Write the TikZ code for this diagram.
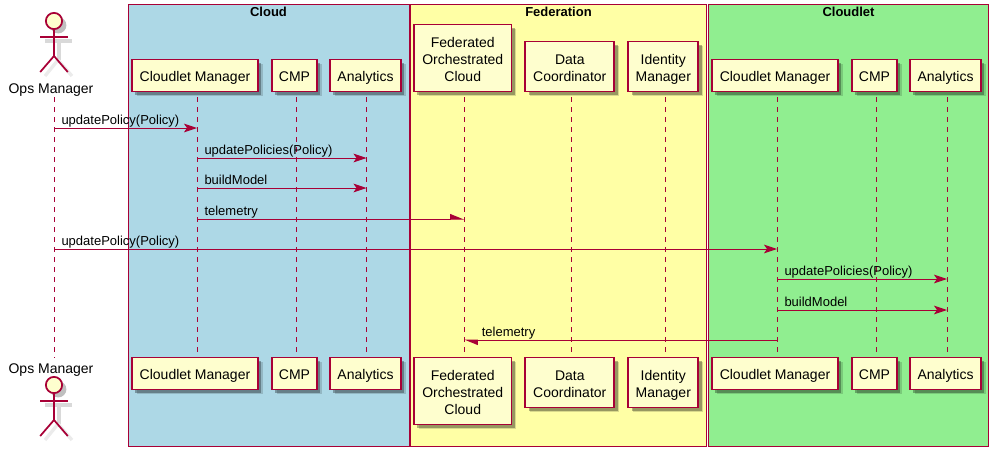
\documentclass[tikz,border=0pt]{standalone}
\usepackage{fontspec}
\setmainfont{Liberation Sans}
\usetikzlibrary{arrows.meta,shadows}
\definecolor{umlred}{HTML}{A80036}
\definecolor{umlcream}{HTML}{FEFECE}
\definecolor{cloudblue}{HTML}{ADD8E6}
\definecolor{fedyellow}{HTML}{FFFFA5}
\definecolor{cloudletgreen}{HTML}{90EE90}
\begin{document}
\begin{tikzpicture}[x=0.75pt,y=-0.75pt]
	\tikzstyle{group} = [rectangle,draw=umlred,line width=0.8pt,inner sep=0pt,outer sep=0pt,anchor=north west]
	\tikzstyle{title} = [inner sep=0pt,font=\fontsize{9.75pt}{12pt}\selectfont\bfseries]
	\tikzstyle{part} = [rectangle,draw=umlred,line width=1.3pt,fill=umlcream,inner sep=0pt,outer sep=0pt,align=center,text depth=0pt,text height=9pt,
	minimum height=24pt,font=\fontsize{10.5pt}{12.75pt}\selectfont,drop shadow={shadow xshift=3.6pt,shadow yshift=-3.6pt,fill=black,opacity=0.15},
	drop shadow={shadow xshift=2.4pt,shadow yshift=-2.4pt,fill=black,opacity=0.3}]
	\tikzstyle{parttwo} = [part,text height=21.8pt,minimum height=37.5pt]
	\tikzstyle{partthree} = [part,text height=34.5pt,minimum height=50.25pt]
	\tikzstyle{who} = [inner sep=0pt,font=\fontsize{10.5pt}{12.75pt}\selectfont]
	\tikzstyle{life} = [draw=umlred,line width=0.75pt,dash pattern=on 3.75pt off 3.75pt]
	\tikzstyle{msg} = [draw=umlred,line width=0.75pt,-{Stealth[length=9.75pt,width=6.5pt,inset=2.25pt]}]
	\tikzstyle{half} = [draw=umlred,line width=0.75pt]
	\tikzstyle{msgtext} = [pos=0,anchor=base west,inner sep=0pt,font=\fontsize{9.75pt}{12pt}\selectfont]
	\tikzset{actor/.pic={
		\draw[black!15,line width=3pt] (4.5,20) -- (4.5,39) (-9,20) -- (18,20);
		\draw[black!8,line width=2.5pt] (4,39) -- (-9,55) (4,39) -- (18,55);
		\node (-head) [circle,draw=umlred,line width=1.3pt,fill=umlcream,inner sep=0pt,outer sep=0pt,minimum size=12.2pt,
		drop shadow={shadow xshift=3.2pt,shadow yshift=-3.2pt,fill=black,opacity=0.25}] at (0,0) {};
		\draw[umlred,line width=1.3pt] (-head.south) -- (0,35) (-13.8,16) -- (13.8,16)
		(-13.8,51) -- (0,35) -- (13.8,51);
	}}
	\useasboundingbox (0,0) rectangle (999,457);
	% groups
	\node (cloud) [group,fill=cloudblue,minimum width=210.4pt,minimum height=331.5pt] at (128.5,4.5) {};
	\node (federation) [group,fill=fedyellow,minimum width=222pt,minimum height=331.5pt] at (410.5,4.5) {};
	\node (cloudlet) [group,fill=cloudletgreen,minimum width=210pt,minimum height=331.5pt] at (708.5,4.5) {};
	\node (cloudtitle) [title] at (268.5,12) {Cloud};
	\node (federationtitle) [title] at (558.5,12) {Federation};
	\node (cloudlettitle) [title] at (848.5,12) {Cloudlet};
	% top row
	\pic (opstop) at (54,21) {actor};
	\node (opsname) [who] at (51,90) {Ops Manager};
	\node (cm1) [part,anchor=south,minimum width=94.5pt] at (195,91.5) {Cloudlet Manager};
	\node (cmp1) [part,anchor=south,minimum width=33.75pt] at (294.5,91.5) {CMP};
	\node (ana1) [part,anchor=south,minimum width=53.25pt] at (365.5,91.5) {Analytics};
	\node (foc) [partthree,anchor=south,minimum width=73.1pt] at (462.75,91.5) {Federated\\Orchestrated\\Cloud};
	\node (data) [parttwo,anchor=south,minimum width=66.75pt] at (569.8,91.5) {Data\\Coordinator};
	\node (idm) [parttwo,anchor=south,minimum width=52.5pt] at (663.3,91.5) {Identity\\Manager};
	\node (cm2) [part,anchor=south,minimum width=94.5pt] at (775,91.5) {Cloudlet Manager};
	\node (cmp2) [part,anchor=south,minimum width=33.75pt] at (874.5,91.5) {CMP};
	\node (ana2) [part,anchor=south,minimum width=53.25pt] at (945.5,91.5) {Analytics};
	% bottom row
	\node (opsnameb) [who] at (51,370) {Ops Manager};
	\pic (opsbot) at (54,385) {actor};
	\node (cm1b) [part,anchor=north,minimum width=94.5pt] at (195,357.5) {Cloudlet Manager};
	\node (cmp1b) [part,anchor=north,minimum width=33.75pt] at (294.5,357.5) {CMP};
	\node (ana1b) [part,anchor=north,minimum width=53.25pt] at (365.5,357.5) {Analytics};
	\node (focb) [partthree,anchor=north,minimum width=73.1pt] at (462.75,357.5) {Federated\\Orchestrated\\Cloud};
	\node (datab) [parttwo,anchor=north,minimum width=66.75pt] at (569.8,357.5) {Data\\Coordinator};
	\node (idmb) [parttwo,anchor=north,minimum width=52.5pt] at (663.3,357.5) {Identity\\Manager};
	\node (cm2b) [part,anchor=north,minimum width=94.5pt] at (775,357.5) {Cloudlet Manager};
	\node (cmp2b) [part,anchor=north,minimum width=33.75pt] at (874.5,357.5) {CMP};
	\node (ana2b) [part,anchor=north,minimum width=53.25pt] at (945.5,357.5) {Analytics};
	% lifelines
	\coordinate (opsl) at (54,97);
	\coordinate (cm1l) at (197,97);
	\coordinate (cmp1l) at (296,97);
	\coordinate (ana1l) at (366.5,97);
	\coordinate (focl) at (464,97);
	\coordinate (datal) at (571.5,97);
	\coordinate (idml) at (665.5,97);
	\coordinate (cm2l) at (777,97);
	\coordinate (cmp2l) at (876,97);
	\coordinate (ana2l) at (947,97);
	\draw[life] (opsl) -- (opsl |- cm1b.north);
	\draw[life] (cm1l) -- (cm1l |- cm1b.north);
	\draw[life] (cmp1l) -- (cmp1l |- cmp1b.north);
	\draw[life] (ana1l) -- (ana1l |- ana1b.north);
	\draw[life] (focl) -- (focl |- focb.north);
	\draw[life] (datal) -- (datal |- datab.north);
	\draw[life] (idml) -- (idml |- idmb.north);
	\draw[life] (cm2l) -- (cm2l |- cm2b.north);
	\draw[life] (cmp2l) -- (cmp2l |- cmp2b.north);
	\draw[life] (ana2l) -- (ana2l |- ana2b.north);
	% messages
	\draw[msg] (opsl |- 0,128) -- node[msgtext,xshift=5.25pt,yshift=3pt] {updatePolicy(Policy)} (cm1l |- 0,128);
	\draw[msg] (cm1l |- 0,158) -- node[msgtext,xshift=5.25pt,yshift=3pt] {updatePolicies(Policy)} (ana1l |- 0,158);
	\draw[msg] (cm1l |- 0,188) -- node[msgtext,xshift=5.25pt,yshift=3pt] {buildModel} (ana1l |- 0,188);
	\draw[half,-{Stealth[harpoon,length=9.5pt,width=7.5pt,inset=0pt]}] (cm1l |- 0,219) -- node[msgtext,xshift=5.25pt,yshift=3pt] {telemetry} (focl |- 0,219);
	\draw[msg] (opsl |- 0,249) -- node[msgtext,xshift=5.25pt,yshift=3pt] {updatePolicy(Policy)} (cm2l |- 0,249);
	\draw[msg] (cm2l |- 0,279) -- node[msgtext,xshift=5.25pt,yshift=3pt] {updatePolicies(Policy)} (ana2l |- 0,279);
	\draw[msg] (cm2l |- 0,310) -- node[msgtext,xshift=5.25pt,yshift=3pt] {buildModel} (ana2l |- 0,310);
	\draw[half,{Stealth[harpoon,length=9.5pt,width=7.5pt,inset=0pt]}-] (focl |- 0,340) -- node[msgtext,xshift=13pt,yshift=3pt] {telemetry} (cm2l |- 0,340);
\end{tikzpicture}
\end{document}
